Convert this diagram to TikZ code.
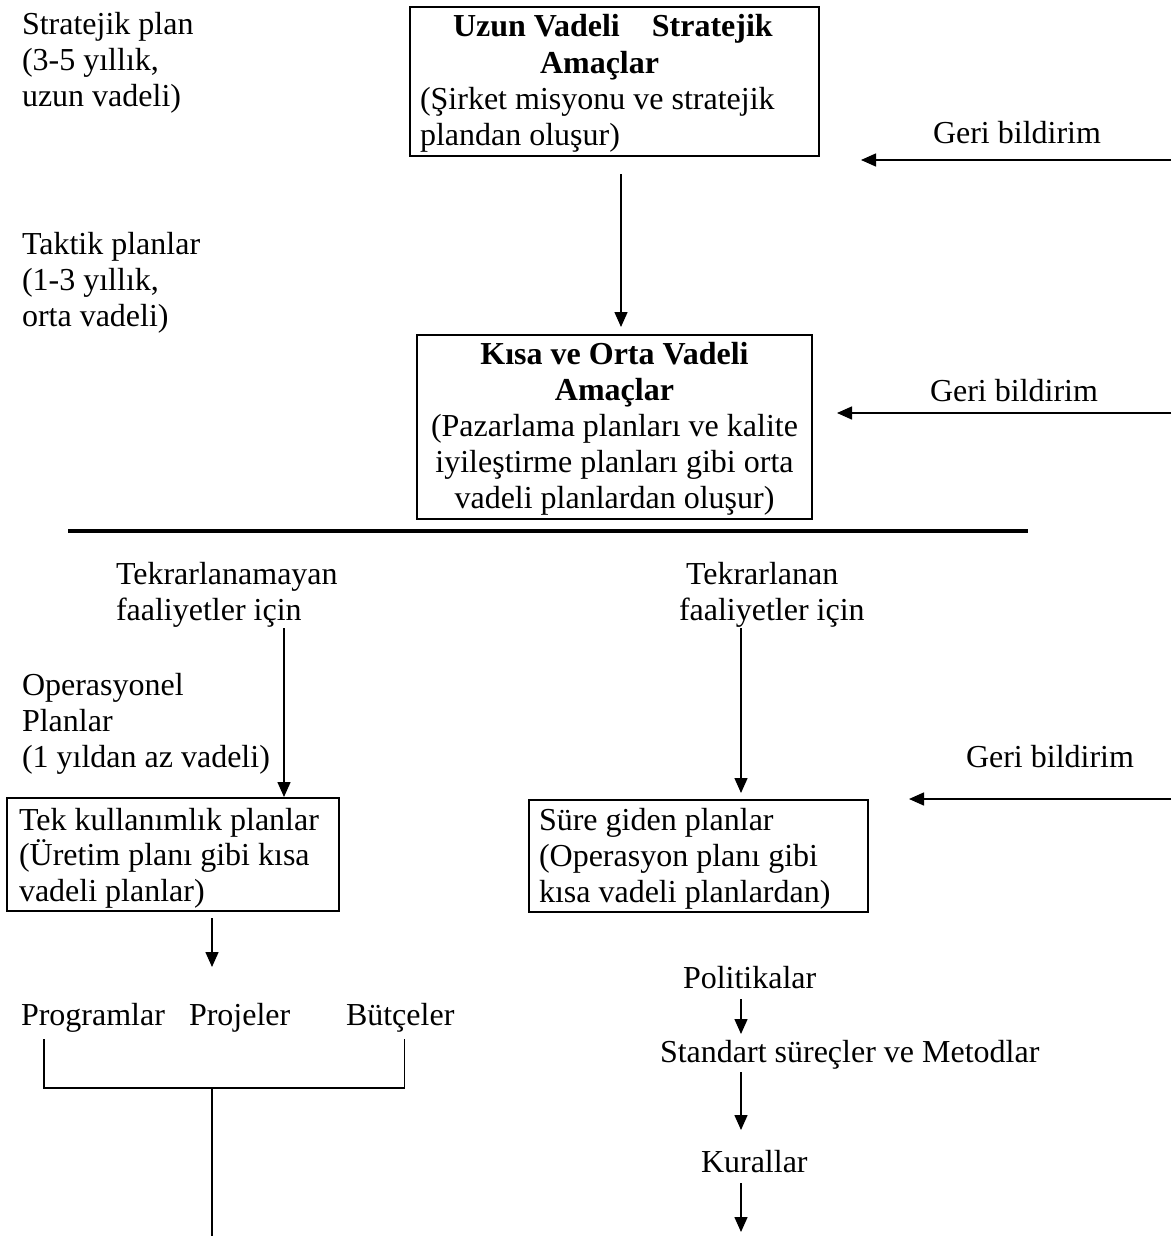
\documentclass[tikz,border=0pt]{standalone}
\usepackage{fontspec}
\setmainfont{Liberation Serif}
\usetikzlibrary{arrows.meta}

\begin{document}
\begin{tikzpicture}[x=1pt,y=-1pt,
  every node/.style={inner sep=0pt, outer sep=0pt},
  txt/.style={font=\fontsize{32}{36}\selectfont, anchor=base west, text height=22pt, text depth=7pt},
  txtblock/.style={font=\fontsize{32}{36}\selectfont, anchor=north west, align=flush left},
  box/.style={draw, line width=2.2pt, anchor=north west},
  arr/.style={line width=1.5pt, -{Triangle[length=15pt,width=13pt]}},
  ln/.style={line width=1.5pt},
]
% page
\fill[white] (0,0) rectangle (1171,1236);
\useasboundingbox (0,0) rectangle (1171,1236);

% planning levels (left column)
\node[txtblock] (strat) at (22,5) {\rule{0pt}{30pt}Stratejik plan\\(3-5 yıllık,\\uzun vadeli)};
\node[txtblock] (takt) at (22,224) {\rule{0pt}{30pt}Taktik planlar\\(1-3 yıllık,\\orta vadeli)};
\node[txtblock] (oper) at (22,665) {\rule{0pt}{30pt}Operasyonel\\Planlar\\(1 yıldan az vadeli)};

% goal boxes
\node[box, minimum width=409pt, minimum height=149pt, text width=389pt, align=flush left,
      font=\fontsize{32}{36.3}\selectfont] (b1) at (410,7)
  {\rule{0pt}{30pt}\hspace*{33pt}\textbf{Uzun Vadeli}\hspace*{32pt}\textbf{Stratejik}\\
   \hspace*{120pt}\textbf{Amaçlar}\\
   (Şirket misyonu ve stratejik\\
   plandan oluşur)\rule[-10.1pt]{0pt}{10.1pt}};

\node[box, minimum width=395pt, minimum height=184pt, text width=375pt, align=flush center,
      font=\fontsize{32}{36}\selectfont] (b2) at (417,335)
  {\rule{0pt}{29pt}\textbf{Kısa ve Orta Vadeli}\\
   \textbf{Amaçlar}\\
   (Pazarlama planları ve kalite\\
   iyileştirme planları gibi orta\\
   vadeli planlardan oluşur)\rule[-11pt]{0pt}{11pt}};

% feedback labels
\node[txt] (gb1) at (933,143) {Geri bildirim};
\node[txt] (gb2) at (930,401) {Geri bildirim};
\node[txt] (gb3) at (966,767) {Geri bildirim};

% separator
\coordinate (ruleL) at (68,531);
\coordinate (ruleR) at (1028,531);
\draw[line width=4pt] (ruleL) -- (ruleR);

% operational branches
\node[txtblock] (nrep) at (116,554) {\rule{0pt}{30pt}Tekrarlanamayan\\faaliyetler için};
\node[txtblock] (rep) at (679,554) {\rule{0pt}{30pt}\hspace*{7pt}Tekrarlanan\\faaliyetler için};

\node[box, minimum width=332pt, minimum height=113pt, text width=308pt, align=flush left,
      font=\fontsize{32}{35.5}\selectfont] (tek) at (7,798)
  {\rule{0pt}{32pt}Tek kullanımlık planlar\\
   (Üretim planı gibi kısa\\
   vadeli planlar)\rule[-10pt]{0pt}{10pt}};

\node[box, minimum width=339pt, minimum height=112pt, text width=319pt, align=flush left,
      font=\fontsize{32}{36}\selectfont] (sure) at (529,800)
  {\rule{0pt}{30pt}Süre giden planlar\\
   (Operasyon planı gibi\\
   kısa vadeli planlardan)\rule[-10pt]{0pt}{10pt}};

% single-use plan types
\node[txt] (prog) at (21,1025) {Programlar};
\node[txt] (proj) at (189,1025) {Projeler};
\node[txt] (bud) at (346,1025) {Bütçeler};

% standing plan types
\node[txt] (pol) at (683,988) {Politikalar};
\node[txt] (std) at (660,1062) {Standart süreçler ve Metodlar};
\node[txt] (kur) at (701,1172) {Kurallar};

% connectors
\coordinate (topx) at (621,0);
\draw[arr, shorten <=18pt, shorten >=8pt] (b1.south -| topx) -- (b2.north -| topx);

\coordinate (fb1) at (1171,160);
\draw[arr, shorten >=42pt] (fb1) -- (b1.east |- fb1);
\coordinate (fb2) at (1171,413);
\draw[arr, shorten >=25pt] (fb2) -- (b2.east |- fb2);
\coordinate (fb3) at (1171,799);
\draw[arr, shorten >=41pt] (fb3) -- (sure.east |- fb3);

\coordinate (nrx) at (284,628);
\draw[arr, shorten >=1pt] (nrx) -- (nrx |- tek.north);
\coordinate (rx) at (741,628);
\draw[arr, shorten >=7pt] (rx) -- (rx |- sure.north);

\coordinate (junc) at (212,1088);
\draw[arr, shorten <=7pt, shorten >=36pt] (tek.south -| junc) -- (prog.north -| junc);
\coordinate (brl) at (44,1039);
\coordinate (brr) at (404.5,1039);
\draw[ln] (brl) |- (junc) -| (brr);
\coordinate (spend) at (212,1236);
\draw[ln] (junc) -- (spend);

\coordinate (col) at (741,0);
\draw[arr, shorten <=4pt, shorten >=6pt] (pol.south -| col) -- (std.north -| col);
\draw[arr, shorten <=3pt, shorten >=20pt] (std.south -| col) -- (kur.north -| col);
\coordinate (kend) at (741,1232);
\draw[arr, shorten <=4pt] (kur.south -| col) -- (kend);
\end{tikzpicture}
\end{document}
